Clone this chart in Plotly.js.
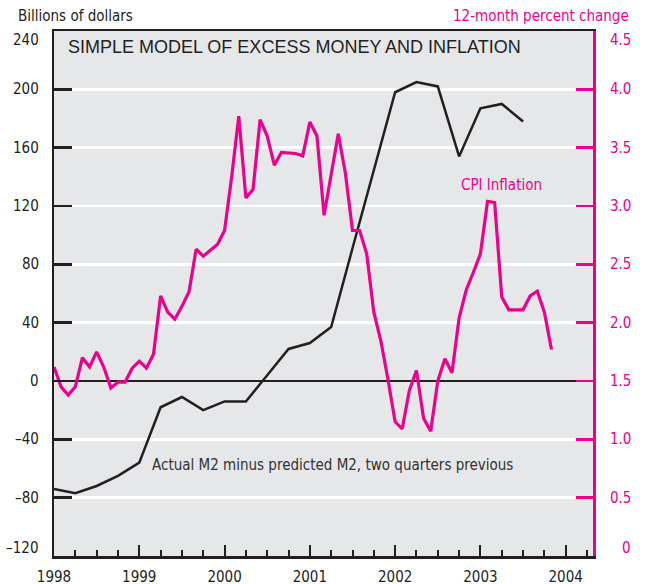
<!DOCTYPE html>
<html>
<head>
<meta charset="utf-8">
<script src="https://cdn.plot.ly/plotly-3.0.1.min.js"></script>
<style>html,body{margin:0;padding:0;background:#fff;}#chart{width:645px;height:584px;}</style>
</head>
<body>
<div id="chart"></div>
<script>
// Excess money: actual M2 minus predicted M2 (billions of dollars), quarterly from 1998 Q1
var m2Start = 1998.0;
var m2Values = [-74, -77, -72, -65, -56, -18, -11, -20, -14, -14, 4, 22, 26, 37, 91, 144, 198, 205, 202, 154, 187, 190, 178];

// CPI inflation, 12-month percent change, monthly from Jan 1998 to Nov 2003
var cpiStart = 1998.0;
var cpiValues = [
  1.62, 1.45, 1.38, 1.45, 1.70, 1.62, 1.75, 1.62, 1.44, 1.49, 1.49, 1.61,
  1.67, 1.61, 1.73, 2.23, 2.09, 2.03, 2.14, 2.265, 2.63, 2.57, 2.62, 2.67,
  2.79, 3.25, 3.77, 3.07, 3.14, 3.74, 3.60, 3.35, 3.46, 3.455, 3.45, 3.43,
  3.72, 3.60, 2.92, 3.27, 3.62, 3.28, 2.79, 2.79, 2.59, 2.09, 1.84, 1.51,
  1.15, 1.09, 1.42, 1.59, 1.18, 1.07, 1.50, 1.69, 1.57, 2.04, 2.28, 2.43,
  2.59, 3.04, 3.03, 2.22, 2.11, 2.11, 2.11, 2.23, 2.27, 2.09, 1.77
];

var yearTicks = [1998, 1999, 2000, 2001, 2002, 2003, 2004];
var yearLabels = ['1998', '1999', '2000', '2001', '2002', '2003', '2004'];
var leftTicks = [-120, -80, -40, 0, 40, 80, 120, 160, 200, 240];
var leftLabels = ['\u2013120', '\u201380', '\u201340', '0', '40', '80', '120', '160', '200', '240'];
var rightTicks = [0, 0.5, 1.0, 1.5, 2.0, 2.5, 3.0, 3.5, 4.0, 4.5];
var rightLabels = ['0', '0.5', '1.0', '1.5', '2.0', '2.5', '3.0', '3.5', '4.0', '4.5'];

var m2X = m2Values.map(function (v, i) { return m2Start + i / 4; });
var cpiX = cpiValues.map(function (v, i) { return cpiStart + i / 12; });

var DARK = '#231f20';
var PINK = '#ec008c';
var NARROW = 'DejaVu Sans Condensed, DejaVu Sans, sans-serif';
var LABEL_SIZE = 15;

var traces = [
  {x: m2X, y: m2Values, type: 'scatter', mode: 'lines', yaxis: 'y',
   line: {color: DARK, width: 2.5}, hoverinfo: 'skip'},
  {x: cpiX, y: cpiValues, type: 'scatter', mode: 'lines', yaxis: 'y2',
   line: {color: PINK, width: 3.2}, hoverinfo: 'skip'}
];

var annotations = [
  {text: 'SIMPLE MODEL OF EXCESS MONEY AND INFLATION', xref: 'paper', yref: 'paper',
   x: 0.022, y: 0.9695, xanchor: 'left', yanchor: 'middle', showarrow: false,
   font: {family: 'Liberation Sans, Arial, sans-serif', size: 18, color: DARK}},
  {text: 'Billions of dollars', xref: 'paper', yref: 'paper',
   x: -0.0705, y: 1.0286, xanchor: 'left', yanchor: 'middle', showarrow: false,
   font: {family: NARROW, size: LABEL_SIZE, color: DARK}},
  {text: '12-month percent change', xref: 'paper', yref: 'paper',
   x: 1.0705, y: 1.0286, xanchor: 'right', yanchor: 'middle', showarrow: false,
   font: {family: NARROW, size: LABEL_SIZE, color: PINK}},
  {text: 'CPI Inflation', xref: 'x', yref: 'y',
   x: 2003.246, y: 134.4, xanchor: 'center', yanchor: 'middle', showarrow: false,
   font: {family: NARROW, size: LABEL_SIZE, color: PINK}},
  {text: 'Actual M2 minus predicted M2, two quarters previous', xref: 'x', yref: 'y',
   x: 1999.124, y: -57.6, xanchor: 'left', yanchor: 'middle', showarrow: false,
   font: {family: NARROW, size: LABEL_SIZE, color: '#333132'}}
];

// y-axis tick labels (right-aligned on both sides; end labels nudged inward as in the original)
function endShift(i, n) { return i === 0 ? 8 : (i === n - 1 ? -9 : 0); }
leftTicks.forEach(function (v, i) {
  annotations.push({text: leftLabels[i], xref: 'paper', yref: 'y', x: -0.0241, y: v,
    xanchor: 'right', yanchor: 'middle', showarrow: false, yshift: endShift(i, leftTicks.length),
    font: {family: NARROW, size: LABEL_SIZE, color: DARK}});
});
rightTicks.forEach(function (v, i) {
  annotations.push({text: rightLabels[i], xref: 'paper', yref: 'y2', x: 1.0742, y: v,
    xanchor: 'right', yanchor: 'middle', showarrow: false, yshift: endShift(i, rightTicks.length),
    font: {family: NARROW, size: LABEL_SIZE, color: PINK}});
});

var layout = {
  width: 645, height: 584,
  margin: {l: 54, r: 52, t: 31, b: 28, pad: 0},
  paper_bgcolor: '#ffffff',
  plot_bgcolor: '#e6e7e8',
  showlegend: false,
  font: {family: NARROW, size: LABEL_SIZE, color: DARK},
  xaxis: {
    range: [1998, 2004.32], tickvals: yearTicks, ticktext: yearLabels,
    ticks: 'inside', ticklen: 11, tickwidth: 2, tickcolor: DARK,
    minor: {dtick: 0.25, tick0: 1998, ticks: 'inside', ticklen: 6, tickwidth: 2, tickcolor: DARK, showgrid: false},
    showgrid: false, zeroline: false,
    showline: true, linecolor: DARK, linewidth: 2.5, mirror: true,
    tickfont: {family: NARROW, size: LABEL_SIZE, color: DARK},
    ticklabelstandoff: 5
  },
  yaxis: {
    range: [-120, 240], tickvals: leftTicks, showticklabels: false,
    ticks: 'inside', ticklen: 18, tickwidth: 2.5, tickcolor: DARK,
    showgrid: true, gridcolor: '#ffffff', gridwidth: 2.5,
    zeroline: true, zerolinecolor: DARK, zerolinewidth: 2,
    showline: true, linecolor: DARK, linewidth: 2.5
  },
  yaxis2: {
    overlaying: 'y', side: 'right',
    range: [0, 4.5], tickvals: rightTicks, showticklabels: false,
    ticks: 'inside', ticklen: 17, tickwidth: 2.5, tickcolor: PINK,
    showgrid: false, zeroline: false,
    showline: true, linecolor: PINK, linewidth: 2.5
  },
  annotations: annotations
};

Plotly.newPlot('chart', traces, layout, {staticPlot: true, displayModeBar: false});
</script>
</body>
</html>
